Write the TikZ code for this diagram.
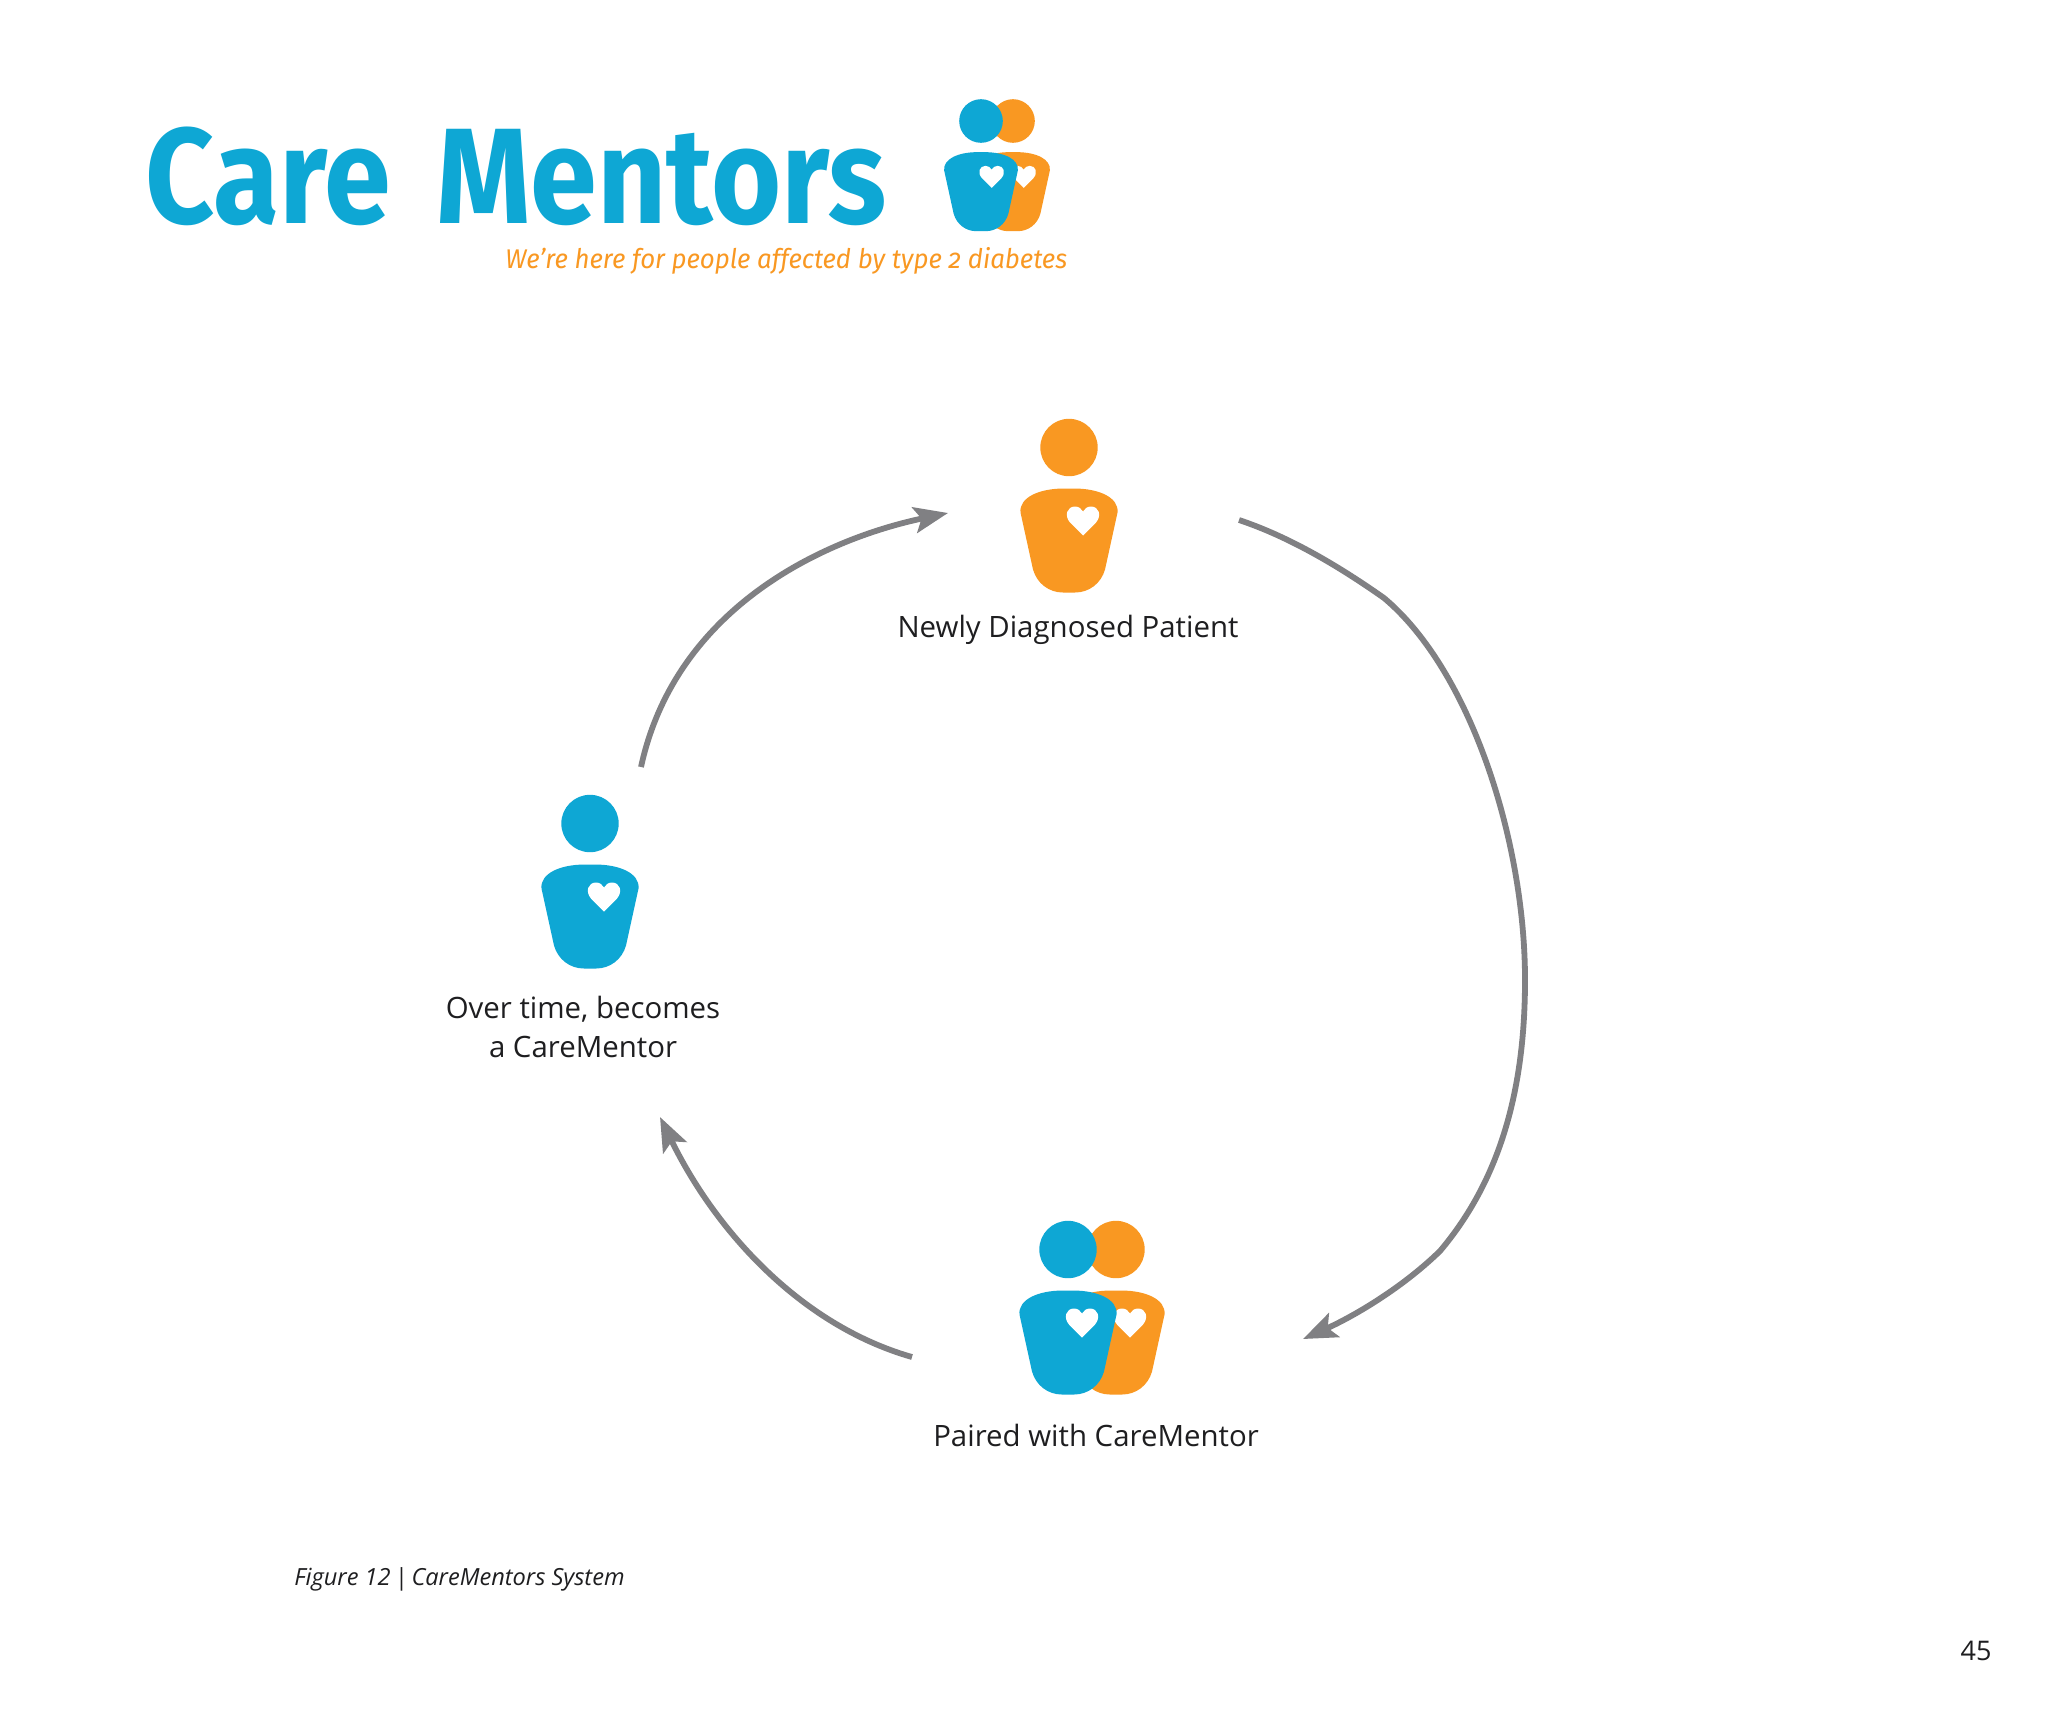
\documentclass[tikz,border=0pt]{standalone}
\usepackage{fontspec}
\usetikzlibrary{arrows.meta}
\setmainfont{Open Sans}
\newfontfamily\titlefont{Fira Sans}
\definecolor{cmblue}{HTML}{0EA7D4}
\definecolor{cmorange}{HTML}{F99822}
\definecolor{cmgrey}{HTML}{808083}
\definecolor{cmtext}{HTML}{1E1E20}
\tikzset{
  x=0.5pt,y=-0.5pt,
  cycleline/.style={draw=cmgrey,line width=2.9pt,-{Stealth[length=17pt,width=13pt,inset=3.5pt]}},
  lab/.style={text=cmtext,font=\fontsize{14.7}{19.5}\selectfont,inner sep=0pt,align=center},
  person/.pic={
    \fill (0,0) circle (28.7);
    \fill (-48.5,65) .. controls (-50,50) and (-30,41) .. (-5,41) -- (5,41)
      .. controls (30,41) and (50,50) .. (48.5,65)
      -- (36,122) .. controls (32,136) and (20,145) .. (6,145) -- (-6,145)
      .. controls (-20,145) and (-32,136) .. (-36,122) -- cycle;
    \fill[white] (14,88) -- (1,75) .. controls (-5,68) and (-2,59) .. (6,59)
      .. controls (9.5,59) and (12.5,61) .. (14,64)
      .. controls (15.5,61) and (18.5,59) .. (22,59)
      .. controls (30,59) and (33,68) .. (27,75) -- cycle;
  }
}
\begin{document}
\begin{tikzpicture}
\fill[white] (0,0) rectangle (2048,1725);
\useasboundingbox (0,0) rectangle (2048,1725);

% header
\node[inner sep=0pt,anchor=base west,text=cmblue,xscale=0.885] (title) at (145,223.5)
  {\titlefont\fontsize{68}{68}\bfseries\selectfont Care\hspace{26pt}Mentors};
\node[inner sep=0pt,anchor=base west,text=cmorange,xscale=0.957] (tagline) at (505,268)
  {\titlefont\itshape\fontsize{13.5}{16}\selectfont We’re here for people affected by type {\addfontfeatures{Numbers=OldStyle}2} diabetes};
\pic[cmorange,scale=0.76] at (1013,121) {person};
\pic[cmblue,scale=0.76] at (981,121) {person};

% people
\pic[cmorange] at (1069,447.5) {person};
\pic[cmblue] at (590,823.5) {person};
\pic[cmorange] at (1116,1249.5) {person};
\pic[cmblue] at (1068,1249.5) {person};

% labels
\node[lab] (newly) at (1068,630) {Newly Diagnosed Patient};
\node[lab] (over) at (583,1026.5) {Over time, becomes\\a CareMentor};
\node[lab] (paired) at (1096,1435) {Paired with CareMentor};
\node[inner sep=0pt,anchor=west,text=cmtext,font=\fontsize{11.8}{14}\itshape\selectfont] (fig) at (294,1579) {Figure 12\,|\,CareMentors System};
\node[inner sep=0pt,text=cmtext,font=\fontsize{13.5}{16}\selectfont] (page) at (1976,1651) {45};

% connectors
\coordinate (a1s) at (1239,520);
\coordinate (a1k1) at (1384,598);
\coordinate (a1m) at (1525,980);
\coordinate (a1k2) at (1440,1251);
\coordinate (a1e) at (1303,1339);
\coordinate (a2s) at (912,1357);
\coordinate (a2e) at (660,1117);
\coordinate (a3s) at (641,767);
\coordinate (a3e) at (948,513);
\draw[cycleline] (a1s) .. controls (1290,537) and (1340,567) .. (a1k1)
  .. controls (1470,670) and (1525,840) .. (a1m)
  .. controls (1525,1090) and (1500,1180) .. (a1k2)
  .. controls (1400,1290) and (1350,1318) .. (a1e);
\draw[cycleline] (a2s) .. controls (800,1325) and (715,1230) .. (a2e);
\draw[cycleline] (a3s) .. controls (675,610) and (820,540) .. (a3e);
\end{tikzpicture}
\end{document}
